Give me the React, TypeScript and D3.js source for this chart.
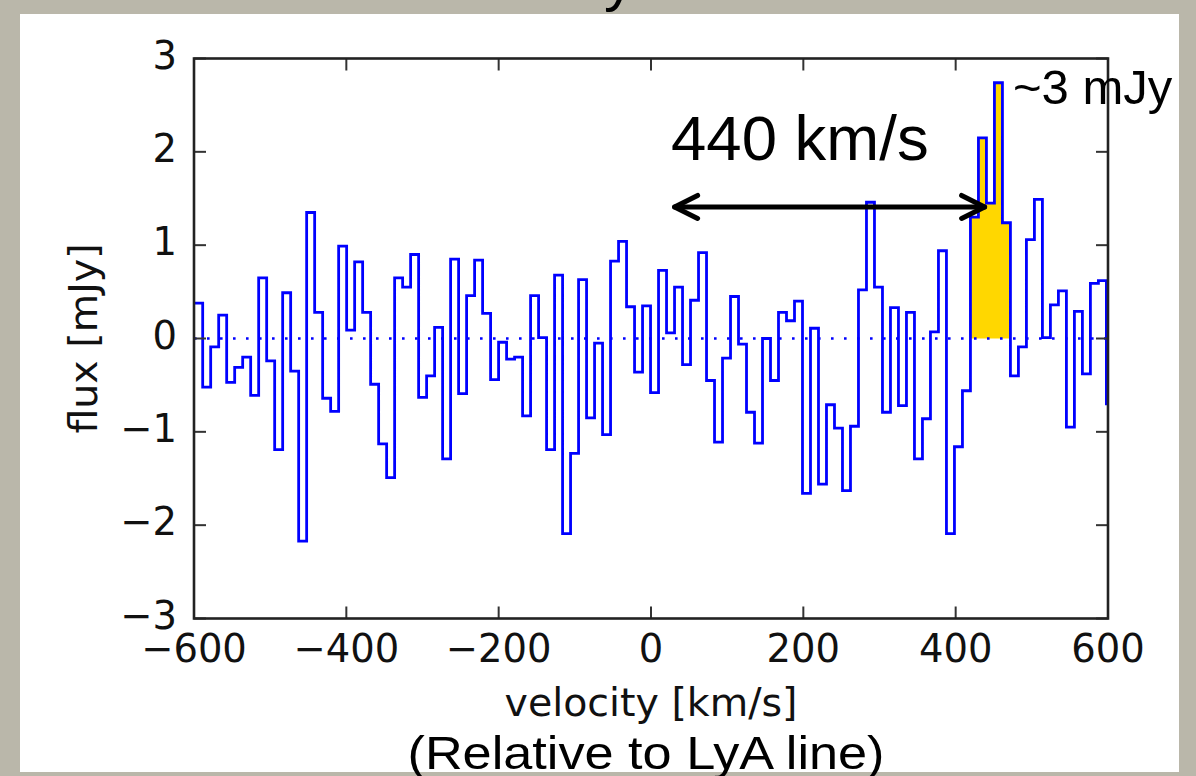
import React from "react";
import * as d3 from "d3";

// ---- data ----
const binStart = -599.1; // km/s, left edge of the first bin
const binWidth = 10.5; // km/s
const flux = [
  0.38, -0.52, -0.09, 0.25, -0.47, -0.31, -0.2, -0.61, 0.65, -0.24,
  -1.19, 0.49, -0.35, -2.17, 1.35, 0.28, -0.64, -0.78, 0.99, 0.09,
  0.82, 0.28, -0.49, -1.13, -1.49, 0.65, 0.55, 0.9, -0.63, -0.4,
  0.12, -1.29, 0.85, -0.59, 0.46, 0.84, 0.27, -0.44, -0.04, -0.22,
  -0.2, -0.83, 0.46, 0.01, -1.19, 0.68, -2.09, -1.23, 0.63, -0.85,
  -0.05, -1.03, 0.83, 1.04, 0.34, -0.36, 0.35, -0.58, 0.73, 0.06,
  0.55, -0.28, 0.41, 0.92, -0.45, -1.11, -0.21, 0.45, -0.06, -0.79,
  -1.12, 0.0, -0.45, 0.28, 0.19, 0.4, -1.66, 0.11, -1.56, -0.71,
  -0.96, -1.63, -0.94, 0.52, 1.46, 0.55, -0.79, 0.33, -0.72, 0.28,
  -1.29, -0.86, 0.07, 0.94, -2.09, -1.16, -0.56, 1.3, 2.15, 1.45,
  2.74, 1.24, -0.4, -0.09, 1.06, 1.49, 0.01, 0.36, 0.51, -0.95,
  0.29, -0.38, 0.59, 0.62, -0.7,
];
const highlightBins = [97, 101]; // first and last highlighted bin
const xTicks = [-600, -400, -200, 0, 200, 400, 600];
const yTicks = [-3, -2, -1, 0, 1, 2, 3];
const arrowFrom = 31; // km/s
const arrowTo = 438; // km/s
const arrowFlux = 1.41; // mJy

const W = 1196;
const H = 776;
const fmt = (v: number) => (v < 0 ? "\u2212" + Math.abs(v) : String(v));

export default function App() {
  const x = d3.scaleLinear().domain([-600, 600]).range([194, 1108]);
  const y = d3.scaleLinear().domain([-3, 3]).range([618.5, 58.5]);

  const pts: [number, number][] = flux.map((f, i) => [binStart + i * binWidth, f]);
  pts.push([binStart + flux.length * binWidth, flux[flux.length - 1]]);

  const line = d3
    .line<[number, number]>()
    .x((d) => x(d[0]))
    .y((d) => y(d[1]))
    .curve(d3.curveStepAfter);

  const hl: [number, number][] = [];
  for (let i = highlightBins[0]; i <= highlightBins[1]; i++) hl.push([binStart + i * binWidth, flux[i]]);
  hl.push([binStart + (highlightBins[1] + 1) * binWidth, flux[highlightBins[1]]]);
  const area = d3
    .area<[number, number]>()
    .x((d) => x(d[0]))
    .y0(y(0))
    .y1((d) => y(d[1]))
    .curve(d3.curveStepAfter);

  const [x0, x1] = x.range();
  const [yb, yt] = y.range();
  const tickLen = 12;
  const tickColor = "#333";
  const ax = x(arrowFrom);
  const bx = x(arrowTo);
  const ay = y(arrowFlux);

  return (
    <svg
      width={W}
      height={H}
      style={{ position: "absolute", left: 0, top: 0, display: "block" }}
    >
      <defs>
        <clipPath id="plotclip">
          <rect x={x0} y={yt} width={x1 - x0} height={yb - yt} />
        </clipPath>
      </defs>
      <rect x={0} y={0} width={W} height={H} fill="#bab7aa" />
      <rect x={20} y={14} width={1159} height={758} fill="#ffffff" />
      {/* cut-off title descender */}
      <text x={604} y={0} fontFamily="Liberation Sans, Arial" fontSize={60} fill="#000">
        y
      </text>

      <g clipPath="url(#plotclip)">
        <path d={area(hl) || ""} fill="#ffd700" />
        <line
          x1={x0}
          x2={x1}
          y1={y(0)}
          y2={y(0)}
          stroke="#0000ff"
          strokeWidth={2.6}
          strokeDasharray="2.6 10.4"
        />
        <path d={line(pts) || ""} fill="none" stroke="#0000ff" strokeWidth={2.8} strokeLinejoin="miter" />
      </g>

      {/* ticks */}
      {xTicks.map((t) => (
        <g key={"xt" + t}>
          <line x1={x(t)} x2={x(t)} y1={yb} y2={yb - tickLen} stroke={tickColor} strokeWidth={2} />
          <line x1={x(t)} x2={x(t)} y1={yt} y2={yt + tickLen} stroke={tickColor} strokeWidth={2} />
          <text
            x={x(t)}
            y={662}
            textAnchor="middle"
            fontFamily="DejaVu Sans"
            fontSize={38.5}
            fill="#111"
          >
            {fmt(t)}
          </text>
        </g>
      ))}
      {yTicks.map((t) => (
        <g key={"yt" + t}>
          <line x1={x0} x2={x0 + tickLen} y1={y(t)} y2={y(t)} stroke={tickColor} strokeWidth={2} />
          <line x1={x1} x2={x1 - tickLen} y1={y(t)} y2={y(t)} stroke={tickColor} strokeWidth={2} />
          <text
            x={177}
            y={y(t) + 10}
            textAnchor="end"
            fontFamily="DejaVu Sans"
            fontSize={38.5}
            fill="#111"
          >
            {fmt(t)}
          </text>
        </g>
      ))}
      <rect x={x0} y={yt} width={x1 - x0} height={yb - yt} fill="none" stroke="#222" strokeWidth={2.6} />

      {/* axis labels */}
      <text x={651} y={716} textAnchor="middle" fontFamily="DejaVu Sans" fontSize={39.5} fill="#111">
        velocity [km/s]
      </text>
      <text
        transform={`translate(97,338.5) rotate(-90)`}
        textAnchor="middle"
        fontFamily="DejaVu Sans"
        fontSize={39.5}
        fill="#111"
      >
        flux [mJy]
      </text>
      <text
        x={646}
        y={769}
        textAnchor="middle"
        fontFamily="Liberation Sans, Arial"
        fontSize={46}
        textLength={477}
        lengthAdjust="spacingAndGlyphs"
        fill="#000"
      >
        (Relative to LyA line)
      </text>

      {/* annotations */}
      <g stroke="#000" strokeWidth={5} strokeLinecap="round" strokeLinejoin="round" fill="none">
        <line x1={ax} x2={bx} y1={ay} y2={ay} />
        <polyline points={`${ax + 23},${ay - 11.5} ${ax},${ay} ${ax + 23},${ay + 11.5}`} />
        <polyline points={`${bx - 23},${ay - 11.5} ${bx},${ay} ${bx - 23},${ay + 11.5}`} />
      </g>
      <text x={671} y={160} fontFamily="Liberation Sans, Arial" fontSize={63.5} fill="#000">
        440 km/s
      </text>
      <text x={1013} y={104} fontFamily="Liberation Sans, Arial" fontSize={49} fill="#000">
        ~3 mJy
      </text>
    </svg>
  );
}
